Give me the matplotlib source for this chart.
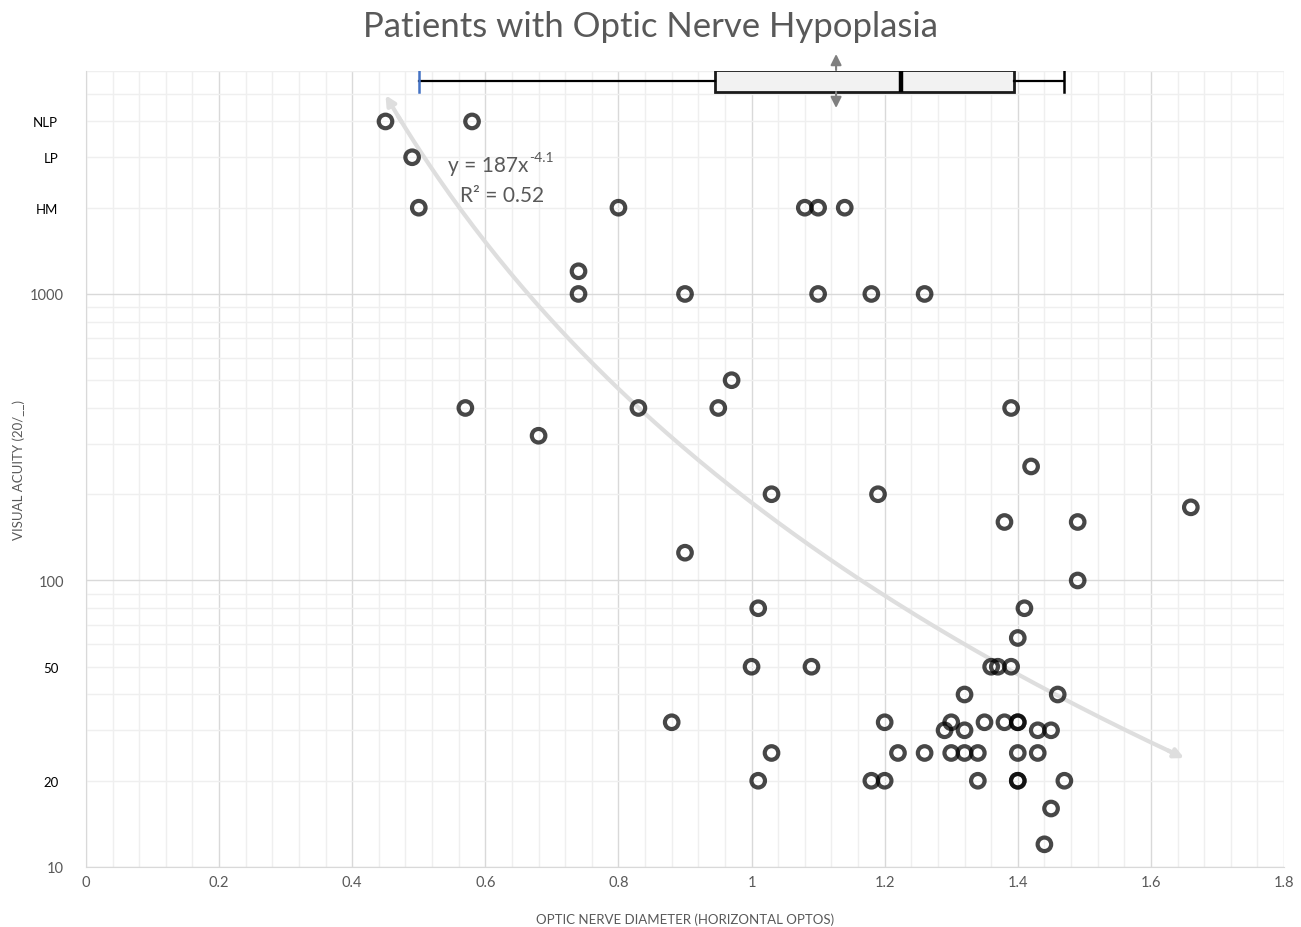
import numpy as np
import matplotlib
matplotlib.use("Agg")
import matplotlib.pyplot as plt
from matplotlib.ticker import FixedLocator, FuncFormatter

plt.rcParams['font.family'] = ['Lato', 'DejaVu Sans']

# optic nerve diameter (horizontal optos) and visual acuity denominator (20/__)
# HM = 2000, LP = 3000, NLP = 4000 on the plot
diameter = [0.45, 0.58, 0.49, 0.50, 0.80, 1.08, 1.10, 1.14,
            0.74, 0.74, 0.90, 1.10, 1.18, 1.26,
            0.97, 0.57, 0.83, 0.95, 1.39, 0.68, 1.42,
            1.03, 1.19, 1.38, 1.49, 1.66, 0.90, 1.49,
            1.01, 1.41, 1.40,
            1.00, 1.09, 1.36, 1.37, 1.39,
            1.32, 1.46,
            0.88, 1.20, 1.30, 1.35, 1.38, 1.40, 1.40,
            1.29, 1.32, 1.43, 1.45,
            1.03, 1.22, 1.26, 1.30, 1.32, 1.34, 1.40, 1.43,
            1.01, 1.18, 1.20, 1.34, 1.40, 1.40, 1.47,
            1.45, 1.44]
acuity = [4000, 4000, 3000, 2000, 2000, 2000, 2000, 2000,
          1200, 1000, 1000, 1000, 1000, 1000,
          500, 400, 400, 400, 400, 320, 250,
          200, 200, 160, 160, 180, 125, 100,
          80, 80, 63,
          50, 50, 50, 50, 50,
          40, 40,
          32, 32, 32, 32, 32, 32, 32,
          30, 30, 30, 30,
          25, 25, 25, 25, 25, 25, 25, 25,
          20, 20, 20, 20, 20, 20, 20,
          16, 12]

# power trendline y = a * x^b
trend_a = 187
trend_b = -4.1
trend_x0, trend_x1 = 0.45, 1.65

# box plot of diameters
box_stats = dict(whislo=0.50, q1=0.945, med=1.225, q3=1.395, whishi=1.47)
box_mean = 1.127

special_labels = {20: '20', 50: '50', 2000: 'HM', 3000: 'LP', 4000: 'NLP'}

grey = '#595959'

fig = plt.figure(figsize=(13.01, 9.28), dpi=100)
pos = [86/1301, 1 - 868/928, (1284-86)/1301, (868-72)/928]
ax = fig.add_axes(pos)

ax.set_xlim(0, 1.8)
ax.set_yscale('log')
ax.set_ylim(10, 6000)

ax.xaxis.set_major_locator(FixedLocator(np.arange(0, 1.81, 0.2)))
ax.xaxis.set_minor_locator(FixedLocator(np.arange(0, 1.81, 0.04)))
ax.xaxis.set_major_formatter(FuncFormatter(lambda v, p: '%g' % round(v, 2)))

ax.yaxis.set_major_locator(FixedLocator([10, 100, 1000]))
ax.yaxis.set_major_formatter(FuncFormatter(lambda v, p: '%d' % v))
minor_y = [m * d for d in (10, 100, 1000) for m in range(2, 10) if m * d <= 6000]
ax.yaxis.set_minor_locator(FixedLocator(minor_y))
ax.yaxis.set_minor_formatter(FuncFormatter(lambda v, p: special_labels.get(int(round(v)), '')))

ax.grid(which='major', color='#d9d9d9', lw=1.0)
ax.grid(which='minor', color='#efefef', lw=1.0)
ax.set_axisbelow(True)
for s in ['top', 'right']:
    ax.spines[s].set_visible(False)
for s in ['left', 'bottom']:
    ax.spines[s].set_color('#d9d9d9')

ax.tick_params(which='both', length=0)
ax.tick_params(axis='x', which='major', labelsize=10.5, labelcolor=grey, pad=6)
ax.tick_params(axis='y', which='major', labelsize=10.5, labelcolor=grey, pad=16)
ax.tick_params(axis='y', which='minor', labelsize=9.5, labelcolor='black', pad=20)

ax.set_xlabel('OPTIC NERVE DIAMETER (HORIZONTAL OPTOS)', fontsize=9.5, color=grey, labelpad=17)
ax.set_ylabel('VISUAL ACUITY (20/__)', fontsize=9.5, color=grey)
ax.yaxis.set_label_coords(-0.051, 0.5)

ax.scatter(diameter, acuity, s=95, facecolors='none', edgecolors='black',
           linewidths=3.0, alpha=0.72, zorder=3)

# trendline with arrow heads at both ends
tx = np.linspace(trend_x0, trend_x1, 200)
ty = trend_a * tx ** trend_b
trend_col = '#dedede'
ax.plot(tx[3:-3], ty[3:-3], color=trend_col, lw=3, zorder=2, solid_capstyle='butt')
for i_tip, i_tail in ((0, 4), (-1, -5)):
    ax.annotate('', xy=(tx[i_tip], ty[i_tip]), xytext=(tx[i_tail], ty[i_tail]),
                arrowprops=dict(arrowstyle='-|>', color=trend_col, lw=3,
                                mutation_scale=14, shrinkA=0, shrinkB=0), zorder=2)

eq = ax.text(0.605, 2815, 'y = 187x', fontsize=15, color=grey, ha='center', va='center')
ax.annotate('-4.1', xy=(1, 0.62), xycoords=eq, fontsize=10, color=grey,
            ha='left', va='bottom')
ax.text(0.625, 2213, 'R² = 0.52', fontsize=15, color=grey, ha='center', va='center')

# box plot drawn on an overlay axes with linear y in pixel units
ax2 = fig.add_axes(pos, sharex=ax)
ax2.set_ylim(0, 796)
ax2.axis('off')
ax2.patch.set_alpha(0)
bp = ax2.bxp([box_stats], positions=[786], widths=22, orientation='horizontal',
             patch_artist=True, showfliers=False, capwidths=22,
             boxprops=dict(facecolor='#f2f2f2', edgecolor='#1a1a1a', linewidth=2),
             medianprops=dict(color='black', lw=3.2),
             whiskerprops=dict(color='black', lw=1.6),
             capprops=dict(color='black', lw=1.8))
bp['caps'][0].set_color('#4472c4')
for y0, y1 in ((797, 813), (775, 759)):
    ax2.annotate('', xy=(box_mean, y1), xytext=(box_mean, y0),
                 arrowprops=dict(arrowstyle='-|>', color='#7f7f7f', lw=1.5,
                                 mutation_scale=16, shrinkA=0, shrinkB=0),
                 annotation_clip=False)

fig.text(0.5, 1 - 27/928, 'Patients with Optic Nerve Hypoplasia', fontsize=25,
         color=grey, ha='center', va='center')

fig.savefig('out.png', dpi=100)
